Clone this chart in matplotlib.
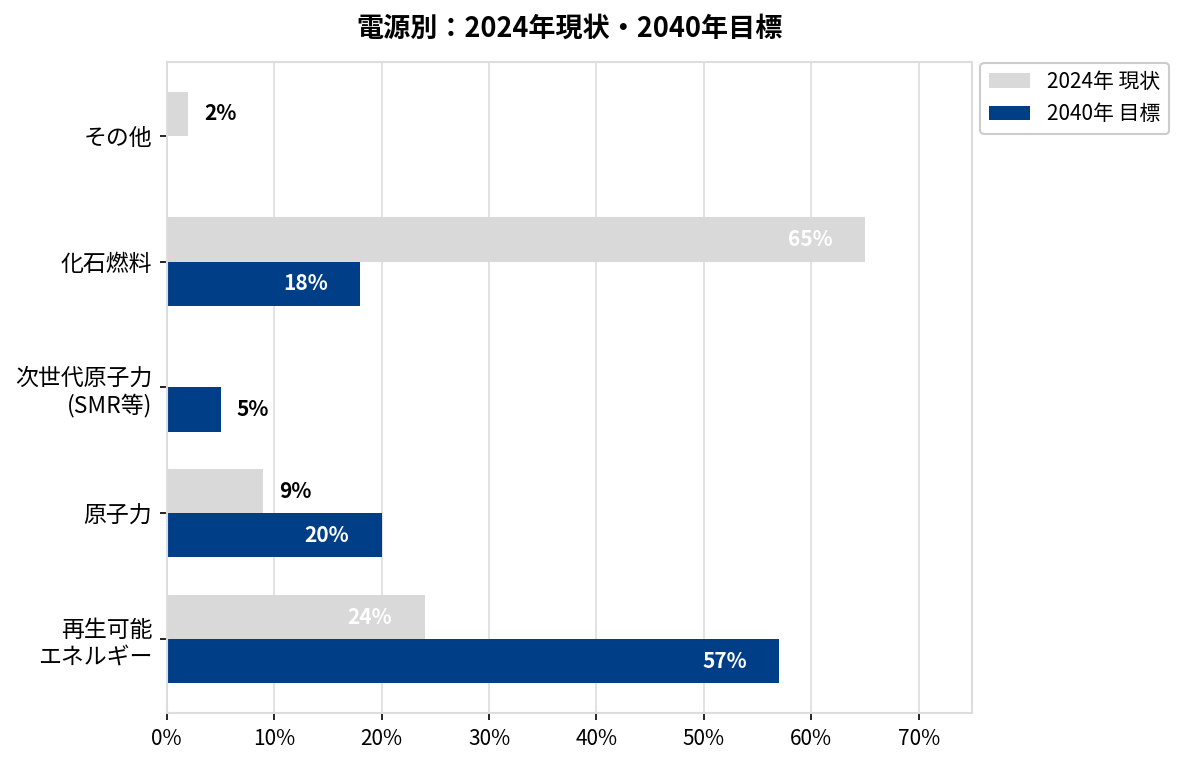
import numpy as np
import matplotlib.pyplot as plt

plt.rcParams['font.family'] = ['Noto Sans CJK JP', 'DejaVu Sans']

# data (bottom to top)
categories = ['再生可能\nエネルギー', '原子力', '次世代原子力\n(SMR等)', '化石燃料', 'その他']
values_2024 = [24, 9, 0, 65, 2]
values_2040 = [57, 20, 5, 18, 0]
series_names = ['2024年 現状', '2040年 目標']
colors = ['#d9d9d9', '#003f87']

y = np.arange(len(categories))
h = 0.35

fig, ax = plt.subplots(figsize=(1183/150, 765/150), dpi=150)
fig.subplots_adjust(left=0.141, right=0.822, top=0.919, bottom=0.068)

b1 = ax.barh(y + h/2, values_2024, height=h, color=colors[0], label=series_names[0], zorder=2)
b2 = ax.barh(y - h/2, values_2040, height=h, color=colors[1], label=series_names[1], zorder=2)

# value labels
for yy, vals in [(y + h/2, values_2024), (y - h/2, values_2040)]:
    for yi, v in zip(yy, vals):
        if v == 0:
            continue
        if v >= 15:
            ax.text(v - 3, yi, f'{v}%', ha='right', va='center', color='white',
                    fontsize=10, fontweight='bold', zorder=3)
        else:
            ax.text(v + 1.5, yi, f'{v}%', ha='left', va='center', color='black',
                    fontsize=10, fontweight='bold', zorder=3)

ax.set_yticks(y)
ax.set_yticklabels(categories, fontsize=11)
ax.set_xlim(0, 75)
ax.set_xticks(np.arange(0, 80, 10))
ax.set_xticklabels([f'{t}%' for t in range(0, 80, 10)], fontsize=10)
ax.grid(axis='x', color='#dddddd', linewidth=0.8, zorder=0)
ax.set_axisbelow(True)
for s in ax.spines.values():
    s.set_color('#dddddd')
    s.set_linewidth(1.0)

ax.set_title('電源別：2024年現状・2040年目標', fontsize=13, fontweight='bold', pad=12)
ax.legend(loc='upper left', bbox_to_anchor=(0.997, 1.015), fontsize=10,
          edgecolor='#cccccc', framealpha=1)

plt.savefig('out.png', dpi=150)
